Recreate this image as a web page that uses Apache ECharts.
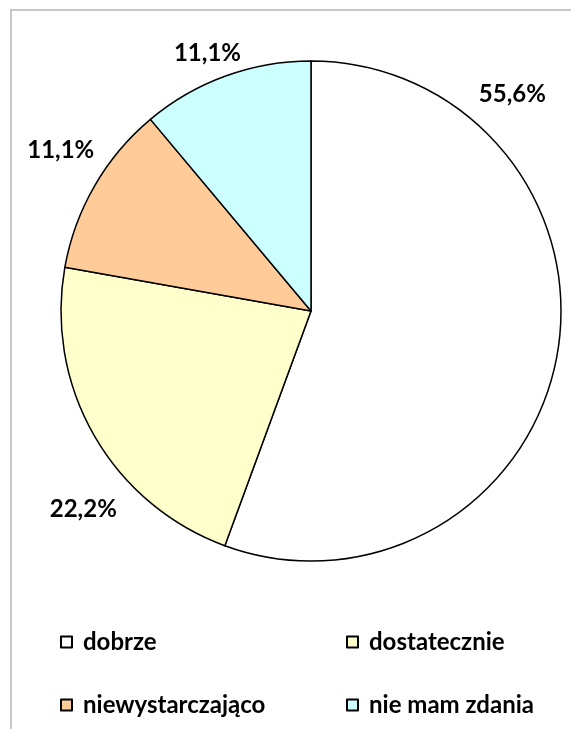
<!DOCTYPE html>
<html>
<head>
<meta charset="utf-8">
<script src="https://cdn.jsdelivr.net/npm/echarts@6/dist/echarts.min.js"></script>
<style>
  html, body { margin: 0; padding: 0; background: #fff; }
  #chart { width: 571px; height: 729px; }
</style>
</head>
<body>
<div id="chart"></div>
<script>
// dane
const categories = ['dobrze', 'dostatecznie', 'niewystarczająco', 'nie mam zdania'];
const values = [55.6, 22.2, 11.1, 11.1];
const colors = ['#FFFFFF', '#FFFFCC', '#FFCC99', '#CCFFFF'];

// przesunięcia etykiet (Excel "best fit")
const labelShift = [[-97, -270], [35, 47], [12, -9], [0, 27]];

const font = { fontFamily: 'Lato', fontWeight: 'bold', fontSize: 24, color: '#000' };
const fmt = p => p.value.toFixed(1).replace('.', ',') + '%';

const chart = echarts.init(document.getElementById('chart'));

const legendBase = {
    orient: 'vertical',
    top: 630,
    padding: 0,
    itemGap: 39,
    itemWidth: 11,
    itemHeight: 11,
    icon: 'rect',
    selectedMode: false,
    itemStyle: { borderColor: '#000', borderWidth: 2 },
    textStyle: Object.assign({ lineHeight: 22, padding: [0, 0, 0, 6] }, font)
};

chart.setOption({
    animation: false,
    backgroundColor: '#fff',
    graphic: [{
        type: 'rect',
        shape: { x: 11, y: 10, width: 700, height: 800 },
        style: { fill: 'none', stroke: '#c8c8c8', lineWidth: 2 },
        silent: true
    }],
    legend: [
        Object.assign({ left: 60, data: [categories[0], categories[2]] }, legendBase),
        Object.assign({ left: 346, data: [categories[1], categories[3]] }, legendBase)
    ],
    series: [
        {
            type: 'pie',
            center: [311, 311],
            radius: 250,
            startAngle: 90,
            clockwise: true,
            label: { show: false },
            labelLine: { show: false },
            emphasis: { disabled: true },
            itemStyle: { borderColor: '#000', borderWidth: 1.5 },
            data: categories.map((name, i) => ({
                name: name,
                value: values[i],
                itemStyle: { color: colors[i] }
            }))
        },
        {
            // pierścień pomocniczy tylko dla etykiet
            type: 'pie',
            center: [311, 311],
            radius: [295, 305],
            startAngle: 90,
            clockwise: true,
            silent: true,
            emphasis: { disabled: true },
            labelLine: { show: false },
            itemStyle: { color: 'rgba(0,0,0,0)', borderWidth: 0 },
            label: Object.assign({ show: true, position: 'inside', formatter: fmt }, font),
            data: categories.map((name, i) => ({
                name: name,
                value: values[i],
                label: { offset: labelShift[i] }
            }))
        }
    ]
});
</script>
</body>
</html>
